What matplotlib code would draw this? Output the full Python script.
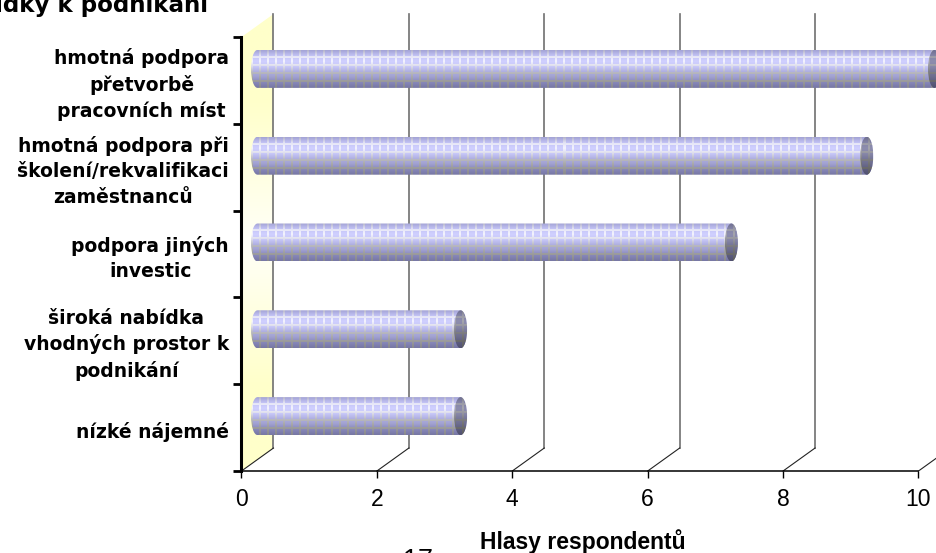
import numpy as np
import matplotlib
matplotlib.use("Agg")
import matplotlib.pyplot as plt
from matplotlib.patches import Ellipse, PathPatch, Polygon
from matplotlib.path import Path

categories = ["nízké nájemné",
              "široká nabídka\nvhodných prostor k\npodnikání",
              "podpora jiných\ninvestic",
              "hmotná podpora při\nškolení/rekvalifikaci\nzaměstnanců",
              "hmotná podpora\npřetvorbě\npracovních míst"]
votes = [3, 3, 7, 9, 10]
x_ticks = [0, 2, 4, 6, 8, 10]

W, H = 937, 553
fig = plt.figure(figsize=(W / 100, H / 100), dpi=100)
ax = fig.add_axes([241.5 / W, (H - 471) / H, 677 / W, 434 / H])
ax.patch.set_alpha(0)

# size of one pixel in data units, 3d depth of the fake box
px = 10 / 677
py = 5 / 434
dx = 32 * px
dy = 23 * py
bar_h = 38 * py
cap_w = 6.5 * px


def bar_texture(w, h, dark=1.0):
    stops = np.array([[165, 165, 215], [195, 195, 245], [208, 208, 255], [200, 200, 248],
                      [175, 175, 225], [160, 160, 208], [135, 135, 185], [120, 120, 165]], float)
    pos = np.linspace(0, 1, len(stops))
    t = np.linspace(0, 1, h)
    col = np.stack([np.interp(t, pos, stops[:, i]) for i in range(3)], axis=1)
    line_stops = np.array([[185, 185, 200], [235, 235, 245], [252, 252, 255], [225, 225, 230],
                           [190, 190, 190], [170, 170, 160], [155, 155, 145], [140, 140, 135]], float)
    line = np.stack([np.interp(t, pos, line_stops[:, i]) for i in range(3)], axis=1)
    img = np.repeat(col[:, None, :], w, axis=1)
    line_img = np.repeat(line[:, None, :], w, axis=1)
    mask = np.zeros((h, w), bool)
    mask[:, ::8] = True
    mask[:, 1::8] = True
    mask[6::8, :] = True
    mask[7::8, :] = True
    img[mask] = img[mask] * 0.2 + line_img[mask] * 0.8
    return (img * dark / 255).clip(0, 1)


# back wall grid lines and floor slants
for v in x_ticks:
    ax.plot([v + dx, v + dx], [dy, 5 + dy], color="#707070", lw=1.2, zorder=1, clip_on=False)
    ax.plot([v, v + dx], [0, dy], color="#222222", lw=0.8, zorder=1, clip_on=False)

# yellow side wall
wall = Polygon([(0, 0), (dx, dy), (dx, 5 + dy), (0, 5)], fc="none", ec="none", clip_on=False)
ax.add_patch(wall)
t = np.abs(np.linspace(-1, 1, 200))[:, None]
wall_img = np.ones((200, 1, 3))
wall_img[:, :, 2] = (248 - 46 * np.clip(t * 1.6, 0, 1)) / 255
im = ax.imshow(wall_img, extent=(0, dx, 0, 5 + dy), aspect="auto", zorder=0.5)
im.set_clip_box(fig.bbox)
im.set_clip_path(wall)

# cylinders
for i, v in enumerate(votes):
    yc = i + 0.5 + dy / 2
    x0 = dx / 2
    x1 = v + dx / 2
    y0, y1 = yc - bar_h / 2, yc + bar_h / 2
    k = 0.5523
    verts = [(x1, y0), (x0, y0),
             (x0 - k * cap_w, y0), (x0 - cap_w, yc - k * bar_h / 2), (x0 - cap_w, yc),
             (x0 - cap_w, yc + k * bar_h / 2), (x0 - k * cap_w, y1), (x0, y1),
             (x1, y1),
             (x1 + k * cap_w, y1), (x1 + cap_w, yc + k * bar_h / 2), (x1 + cap_w, yc),
             (x1 + cap_w, yc - k * bar_h / 2), (x1 + k * cap_w, y0), (x1, y0),
             (x1, y0)]
    codes = [Path.MOVETO, Path.LINETO,
             Path.CURVE4, Path.CURVE4, Path.CURVE4,
             Path.CURVE4, Path.CURVE4, Path.CURVE4,
             Path.LINETO,
             Path.CURVE4, Path.CURVE4, Path.CURVE4,
             Path.CURVE4, Path.CURVE4, Path.CURVE4,
             Path.CLOSEPOLY]
    shape = PathPatch(Path(verts, codes), fc="none", ec="none", clip_on=False)
    ax.add_patch(shape)
    w = int((x1 - x0 + 2 * cap_w) / px)
    im = ax.imshow(bar_texture(w, 38), extent=(x0 - cap_w, x1 + cap_w, y0, y1),
                   aspect="auto", interpolation="nearest", zorder=2)
    im.set_clip_box(fig.bbox)
    im.set_clip_path(shape)

    cap = Ellipse((x1, yc), 2 * cap_w, bar_h, fc="none", ec="none", clip_on=False)
    ax.add_patch(cap)
    tex = bar_texture(13, 38, dark=0.68)
    im = ax.imshow(tex, extent=(x1 - cap_w, x1 + cap_w, y0, y1),
                   aspect="auto", interpolation="nearest", zorder=3)
    im.set_clip_box(fig.bbox)
    im.set_clip_path(cap)

ax.set_xlim(0, 10)
ax.set_ylim(0, 5)
for s in ["top", "right"]:
    ax.spines[s].set_visible(False)
ax.spines["left"].set_linewidth(2.2)
ax.spines["bottom"].set_linewidth(1.1)
ax.spines["left"].set_zorder(5)
ax.spines["bottom"].set_zorder(5)

ax.set_xticks(x_ticks)
ax.tick_params(axis="x", length=5, width=1.0, pad=7, labelsize=16.5, labelfontfamily="Liberation Sans")
ax.set_yticks(range(6))
ax.set_yticklabels([])
ax.tick_params(axis="y", length=6, width=2.0)

for i, c in enumerate(categories):
    ax.annotate(c, xy=(0, i + 0.5), xycoords="data", xytext=(-9, -3), textcoords="offset points",
                ha="right", va="center", multialignment="center", fontsize=13.5, fontweight="bold",
                family="DejaVu Sans", linespacing=1.42, annotation_clip=False)

fig.text(208 / W, 1 - 12 / H, "Nabídky k podnikání", ha="right", va="baseline", fontsize=16.6,
         fontweight="bold", family="DejaVu Sans")
fig.text(583 / W, 1 - 549 / H, "Hlasy respondentů", ha="center", va="baseline", fontsize=16.5,
         fontweight="bold", family="Liberation Sans")
fig.text(418 / W, 1 - 568 / H, "17", ha="center", va="baseline", fontsize=19.4,
         family="Liberation Sans")

fig.savefig("out.png", dpi=100)
